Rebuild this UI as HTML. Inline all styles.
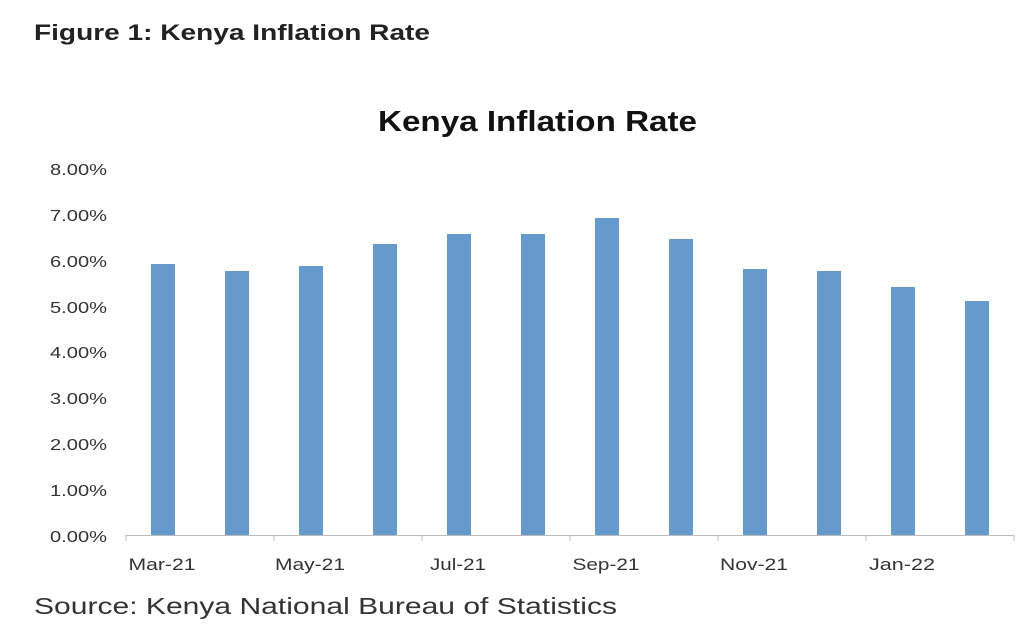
<!DOCTYPE html>
<html><head><meta charset="utf-8"><style>
body{margin:0;background:#fff;}
</style></head><body>
<svg width="1024" height="634" xmlns="http://www.w3.org/2000/svg" font-family="Liberation Sans, sans-serif">
<rect width="1024" height="634" fill="#fff"/>
<text x="34" y="40" font-size="22" font-weight="bold" fill="#222" textLength="396" lengthAdjust="spacingAndGlyphs">Figure 1: Kenya Inflation Rate</text>
<text x="378" y="131" font-size="29" font-weight="bold" fill="#111" textLength="319" lengthAdjust="spacingAndGlyphs">Kenya Inflation Rate</text>
<g font-size="16" fill="#333">
<text x="50" y="175" textLength="57" lengthAdjust="spacingAndGlyphs">8.00%</text>
<text x="50" y="221" textLength="57" lengthAdjust="spacingAndGlyphs">7.00%</text>
<text x="50" y="267" textLength="57" lengthAdjust="spacingAndGlyphs">6.00%</text>
<text x="50" y="313" textLength="57" lengthAdjust="spacingAndGlyphs">5.00%</text>
<text x="50" y="358" textLength="57" lengthAdjust="spacingAndGlyphs">4.00%</text>
<text x="50" y="404" textLength="57" lengthAdjust="spacingAndGlyphs">3.00%</text>
<text x="50" y="450" textLength="57" lengthAdjust="spacingAndGlyphs">2.00%</text>
<text x="50" y="496" textLength="57" lengthAdjust="spacingAndGlyphs">1.00%</text>
<text x="50" y="542" textLength="57" lengthAdjust="spacingAndGlyphs">0.00%</text>
</g>
<g fill="#6699cc">
<rect x="151" y="264" width="24" height="271"/>
<rect x="225" y="271" width="24" height="264"/>
<rect x="299" y="266" width="24" height="269"/>
<rect x="373" y="244" width="24" height="291"/>
<rect x="447" y="234" width="24" height="301"/>
<rect x="521" y="234" width="24" height="301"/>
<rect x="595" y="218" width="24" height="317"/>
<rect x="669" y="239" width="24" height="296"/>
<rect x="743" y="269" width="24" height="266"/>
<rect x="817" y="271" width="24" height="264"/>
<rect x="891" y="287" width="24" height="248"/>
<rect x="965" y="301" width="24" height="234"/>
</g>
<line x1="126" y1="535.5" x2="1014" y2="535.5" stroke="#bbb" stroke-width="1"/>
<g stroke="#bbb">
<line x1="126" y1="535" x2="126" y2="541"/><line x1="274" y1="535" x2="274" y2="541"/>
<line x1="422" y1="535" x2="422" y2="541"/><line x1="570" y1="535" x2="570" y2="541"/>
<line x1="718" y1="535" x2="718" y2="541"/><line x1="866" y1="535" x2="866" y2="541"/>
<line x1="1014" y1="535" x2="1014" y2="541"/>
</g>
<g font-size="17" fill="#333" text-anchor="middle">
<text x="162" y="570" textLength="67" lengthAdjust="spacingAndGlyphs">Mar-21</text>
<text x="310" y="570" textLength="70" lengthAdjust="spacingAndGlyphs">May-21</text>
<text x="458" y="570" textLength="56" lengthAdjust="spacingAndGlyphs">Jul-21</text>
<text x="606" y="570" textLength="67" lengthAdjust="spacingAndGlyphs">Sep-21</text>
<text x="754" y="570" textLength="68" lengthAdjust="spacingAndGlyphs">Nov-21</text>
<text x="902" y="570" textLength="66" lengthAdjust="spacingAndGlyphs">Jan-22</text>
</g>
<text x="34" y="614" font-size="23" fill="#333" textLength="583" lengthAdjust="spacingAndGlyphs">Source: Kenya National Bureau of Statistics</text>
</svg>
</body></html>
